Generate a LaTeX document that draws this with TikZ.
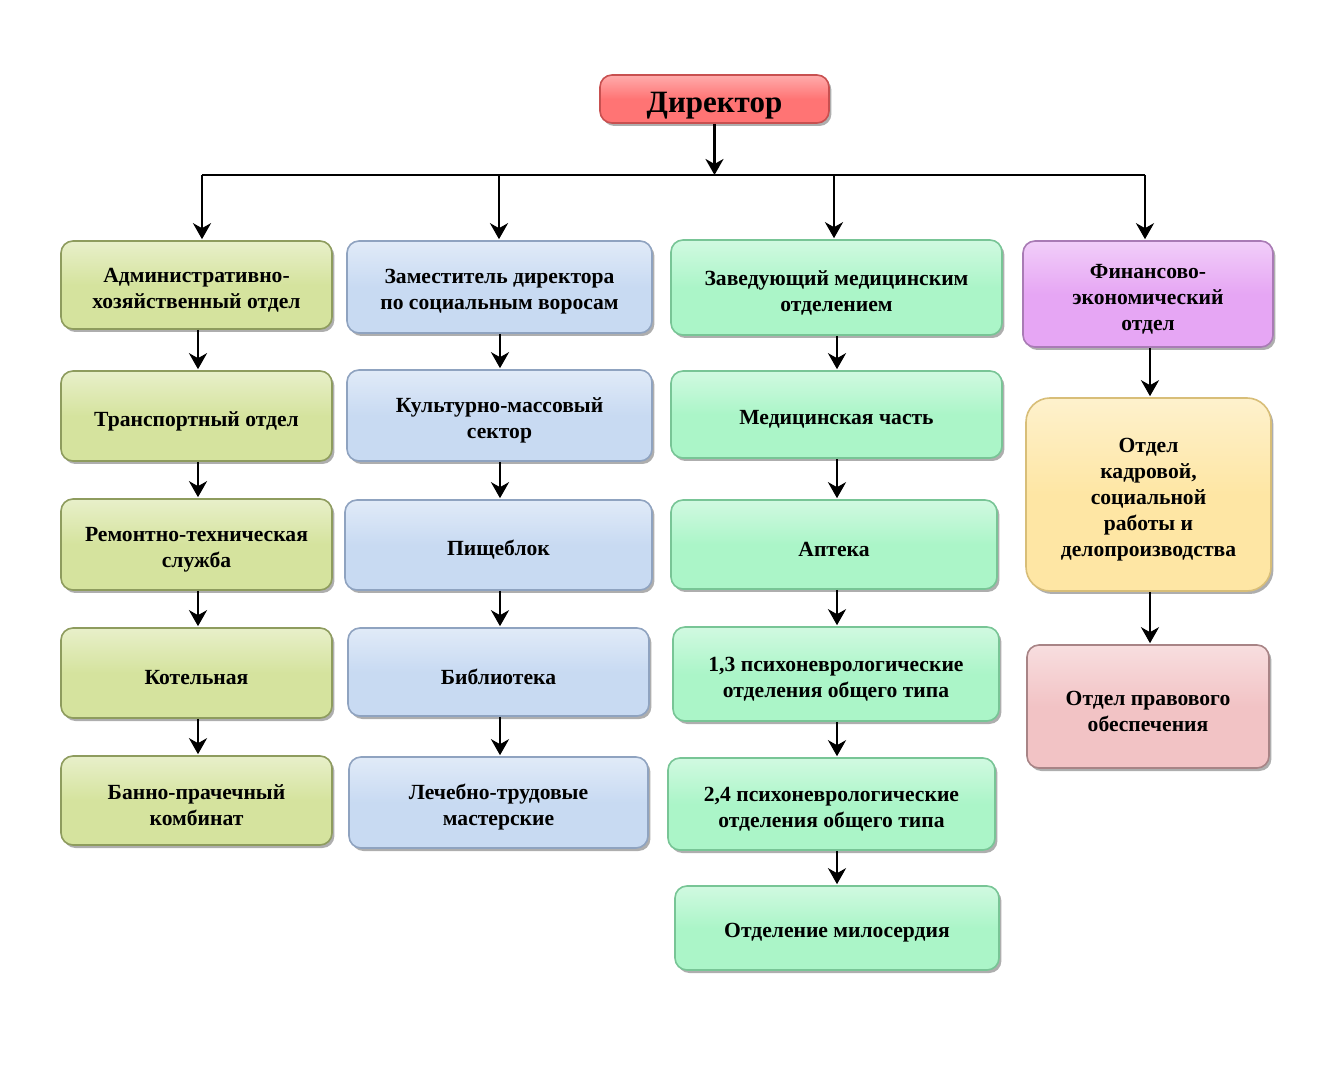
\documentclass[tikz,border=0pt]{standalone}
\usepackage{fontspec}
\setmainfont{Liberation Serif}
\usetikzlibrary{arrows.meta,shadows,calc}
\definecolor{cA}{HTML}{D5E39E}
\definecolor{cAd}{HTML}{8E9C5E}
\definecolor{cB}{HTML}{C8DAF2}
\definecolor{cBd}{HTML}{8FA3C0}
\definecolor{cC}{HTML}{ABF5C8}
\definecolor{cCd}{HTML}{78C596}
\definecolor{cD}{HTML}{E6A6F4}
\definecolor{cDd}{HTML}{A97BB5}
\definecolor{cE}{HTML}{FEE6A4}
\definecolor{cEd}{HTML}{D8BE78}
\definecolor{cF}{HTML}{F2C3C5}
\definecolor{cFd}{HTML}{A88486}
\definecolor{cR}{HTML}{FF7474}
\definecolor{cRd}{HTML}{C85050}
\tikzset{
  orgbox/.style={rectangle, rounded corners=6pt, line width=0.8pt,
    inner sep=0pt,
    drop shadow={shadow xshift=1.2pt, shadow yshift=-1.5pt, opacity=0.45, fill=black!70}},
  boxtext/.style={align=center, inner sep=0pt, yshift=-2.5pt,
    font=\fontsize{10.8}{13}\selectfont\bfseries},
  dirtext/.style={boxtext, yshift=-1pt, font=\fontsize{15.5}{18}\selectfont\bfseries},
  colA/.style={orgbox, draw=cAd, top color=cA!55!white, bottom color=cA, middle color=cA},
  colB/.style={orgbox, draw=cBd, top color=cB!55!white, bottom color=cB, middle color=cB},
  colC/.style={orgbox, draw=cCd, top color=cC!55!white, bottom color=cC, middle color=cC},
  colD/.style={orgbox, draw=cDd, top color=cD!55!white, bottom color=cD, middle color=cD},
  colE/.style={orgbox, draw=cEd, top color=cE!55!white, bottom color=cE, middle color=cE, rounded corners=12pt},
  colF/.style={orgbox, draw=cFd, top color=cF!55!white, bottom color=cF, middle color=cF},
  colR/.style={orgbox, draw=cRd, top color=cR!60!white, bottom color=cR, middle color=cR},
  arr/.style={line width=1.3pt, -{Stealth[length=8pt,width=9pt,inset=2.5pt]}, shorten >=0.5pt},
  busline/.style={line width=1.3pt},
}
\begin{document}
\begin{tikzpicture}[x=0.5pt,y=-0.5pt]
\useasboundingbox[fill=white] (0,0) rectangle (1334,1080);

% Director
\node[colR, minimum width=114.5pt, minimum height=24pt, label={[dirtext]center:Директор}] (dir) at (714.5,99) {};

% Column 1
\node[colA, minimum width=135.5pt, minimum height=44pt, label={[boxtext]center:{Административно-\\хозяйственный отдел}}] (a1) at (196.5,285) {};
\node[colA, minimum width=135.5pt, minimum height=45pt, label={[boxtext]center:{Транспортный отдел}}] (a2) at (196.5,416) {};
\node[colA, minimum width=135.5pt, minimum height=45.5pt, label={[boxtext]center:{Ремонтно-техническая\\служба}}] (a3) at (196.5,544.5) {};
\node[colA, minimum width=135.5pt, minimum height=45pt, label={[boxtext]center:{Котельная}}] (a4) at (196.5,673) {};
\node[colA, minimum width=135.5pt, minimum height=44.5pt, label={[boxtext]center:{Банно-прачечный\\комбинат}}] (a5) at (196.5,800.5) {};

% Column 2
\node[colB, minimum width=152.5pt, minimum height=46pt, label={[boxtext]center:{Заместитель директора\\по социальным воросам}}] (b1) at (499.5,287) {};
\node[colB, minimum width=152.5pt, minimum height=45.5pt, label={[boxtext]center:{Культурно-массовый\\сектор}}] (b2) at (499.5,415.5) {};
\node[colB, minimum width=153.5pt, minimum height=45pt, label={[boxtext]center:{Пищеблок}}] (b3) at (498.5,545) {};
\node[colB, minimum width=150.5pt, minimum height=44pt, label={[boxtext]center:{Библиотека}}] (b4) at (498.5,672) {};
\node[colB, minimum width=149.5pt, minimum height=45.5pt, label={[boxtext]center:{Лечебно-трудовые\\мастерские}}] (b5) at (498.5,802.5) {};

% Column 3
\node[colC, minimum width=165.5pt, minimum height=47.5pt, label={[boxtext]center:{Заведующий медицинским\\отделением}}] (c1) at (836.5,287.5) {};
\node[colC, minimum width=165.5pt, minimum height=43.5pt, label={[boxtext]center:{Медицинская часть}}] (c2) at (836.5,414.5) {};
\node[colC, minimum width=163pt, minimum height=44.5pt, label={[boxtext]center:{Аптека}}] (c3) at (834,544.5) {};
\node[colC, minimum width=163pt, minimum height=47pt, label={[boxtext]center:{1,3 психоневрологические\\отделения общего типа}}] (c4) at (836,674) {};
\node[colC, minimum width=163.5pt, minimum height=46pt, label={[boxtext]center:{2,4 психоневрологические\\отделения общего типа}}] (c5) at (831.5,804) {};
\node[colC, minimum width=162pt, minimum height=42pt, label={[boxtext]center:{Отделение милосердия}}] (c6) at (837,928) {};

% Column 4
\node[colD, minimum width=125pt, minimum height=53pt, label={[boxtext]center:{Финансово-\\экономический\\отдел}}] (d1) at (1148,294) {};
\node[colE, minimum width=122.5pt, minimum height=96.5pt, label={[boxtext]center:{Отдел\\кадровой,\\социальной\\работы и\\делопроизводства}}] (d2) at (1148.5,494.5) {};
\node[colF, minimum width=121pt, minimum height=61.5pt, label={[boxtext]center:{Отдел правового\\обеспечения}}] (d3) at (1148,706.5) {};

% Bus
\coordinate (busC) at (714.5,175);
\coordinate (bus1) at (202,175);
\coordinate (bus2) at (499,175);
\coordinate (bus3) at (834,175);
\coordinate (bus4) at (1145,175);
\draw[busline] (bus1) -- (bus4);
\draw[arr, shorten >=0pt] (dir.south) -- (busC);
\draw[arr] (bus1) -- (bus1 |- a1.north);
\draw[arr] (bus2) -- (bus2 |- b1.north);
\draw[arr] (bus3) -- (bus3 |- c1.north);
\draw[arr] (bus4) -- (bus4 |- d1.north);

% Column arrows
\coordinate (xa) at (198,0);
\coordinate (xb) at (500,0);
\coordinate (xc) at (837,0);
\coordinate (xd) at (1150,0);
\foreach \u/\v in {a1/a2,a2/a3,a3/a4,a4/a5}{
  \draw[arr] (xa |- \u.south) -- (xa |- \v.north);
}
\foreach \u/\v in {b1/b2,b2/b3,b3/b4,b4/b5}{
  \draw[arr] (xb |- \u.south) -- (xb |- \v.north);
}
\foreach \u/\v in {c1/c2,c2/c3,c3/c4,c4/c5,c5/c6}{
  \draw[arr] (xc |- \u.south) -- (xc |- \v.north);
}
\foreach \u/\v in {d1/d2,d2/d3}{
  \draw[arr] (xd |- \u.south) -- (xd |- \v.north);
}
\end{tikzpicture}
\end{document}
